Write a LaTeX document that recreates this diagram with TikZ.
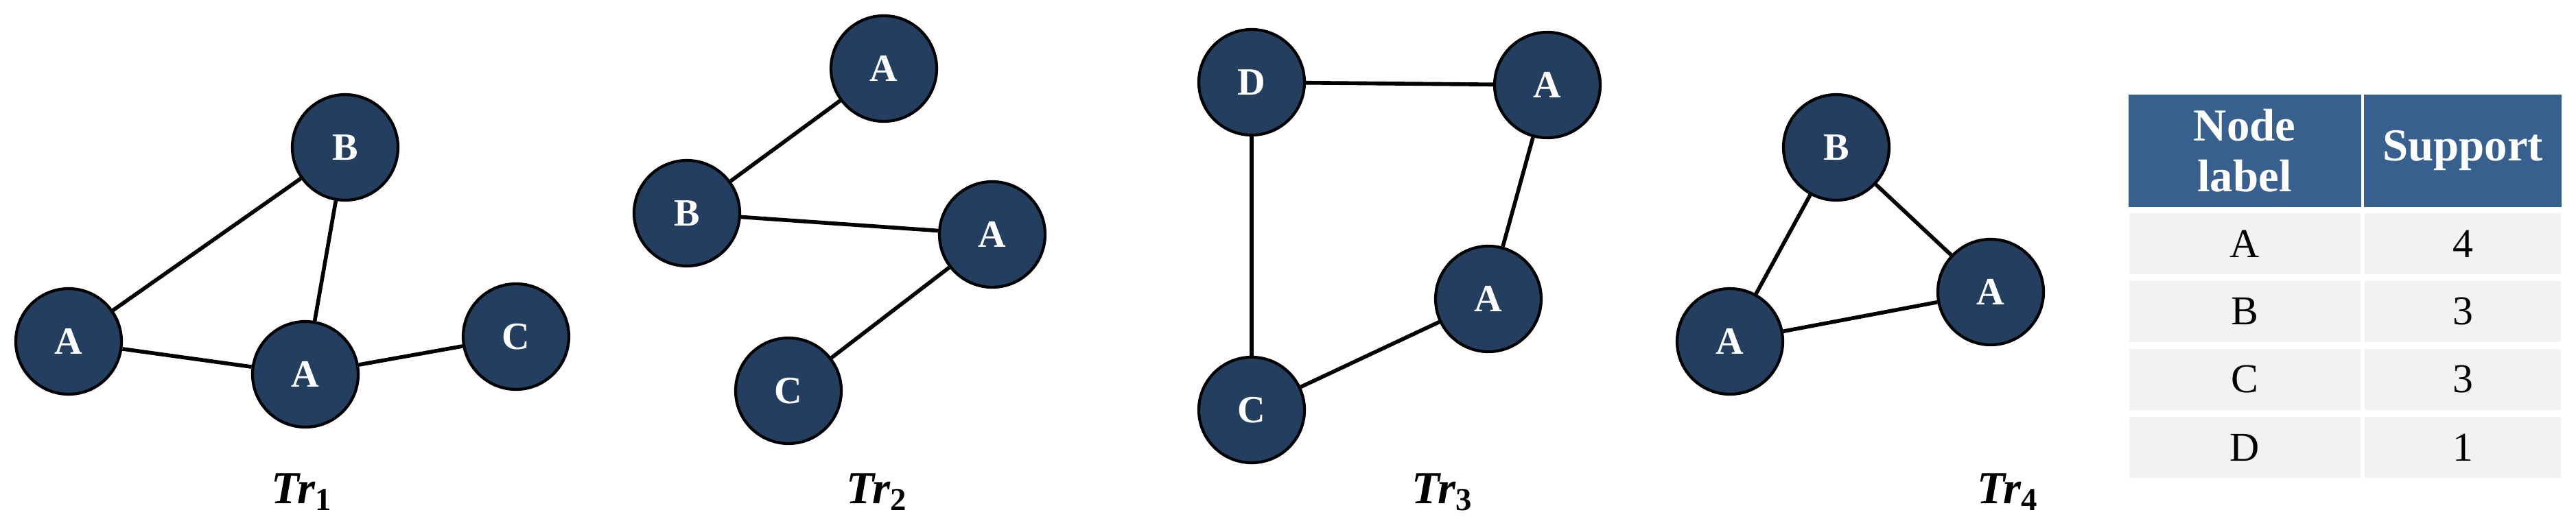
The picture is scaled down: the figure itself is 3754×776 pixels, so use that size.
\documentclass[tikz,border=0pt]{standalone}
\usepackage{fontspec}
\setmainfont{Liberation Serif}
\begin{document}
\begin{tikzpicture}[x=0.1mm,y=-0.1mm,
 v/.style={circle,draw=black,line width=1.2pt,fill=nodec,minimum size=15.4mm,inner sep=0pt,text=white,font=\fontsize{16}{16}\selectfont\bfseries},
 e/.style={line width=1.6pt},
 tl/.style={font=\fontsize{19}{19}\selectfont\bfseries\itshape},
 hd/.style={fill=hdc,draw=white,line width=1pt},
 rw/.style={fill=rowc,draw=white,line width=1.5pt},
 tt/.style={font=\fontsize{17}{19}\selectfont}]
\definecolor{nodec}{HTML}{243E60}
\definecolor{hdc}{HTML}{37608F}
\definecolor{rowc}{HTML}{F2F2F2}
\useasboundingbox (0,0) rectangle (3754,776);
% Tr1
\node[v] (b1) at (503,215) {B};
\node[v] (a11) at (100,498) {A};
\node[v] (a12) at (445,546) {A};
\node[v] (c1) at (752,491) {C};
\draw[e] (a11)--(b1) (b1)--(a12) (a11)--(a12) (a12)--(c1);
% Tr2
\node[v] (a21) at (1288,100) {A};
\node[v] (b2) at (1001,311) {B};
\node[v] (a22) at (1446,342) {A};
\node[v] (c2) at (1149,570) {C};
\draw[e] (b2)--(a21) (b2)--(a22) (a22)--(c2);
% Tr3
\node[v] (d3) at (1824,120) {D};
\node[v] (a31) at (2255,124) {A};
\node[v] (a32) at (2169,436) {A};
\node[v] (c3) at (1824,598) {C};
\draw[e] (d3)--(a31) (a31)--(a32) (a32)--(c3) (c3)--(d3);
% Tr4
\node[v] (b4) at (2676,215) {B};
\node[v] (a41) at (2521,498) {A};
\node[v] (a42) at (2901,426) {A};
\draw[e] (b4)--(a41) (b4)--(a42) (a41)--(a42);
% labels
\node[tl] (l1) at (440,718) {Tr\textsubscript{\upshape 1}};
\node[tl] (l2) at (1278,718) {Tr\textsubscript{\upshape 2}};
\node[tl] (l3) at (2102,718) {Tr\textsubscript{\upshape 3}};
\node[tl] (l4) at (2926,718) {Tr\textsubscript{\upshape 4}};
% table
\fill[hd] (3100,136) rectangle (3443,304);
\fill[hd] (3443,136) rectangle (3735,304);
\node[text=white,font=\fontsize{19}{21}\selectfont\bfseries,align=center] (h1) at (3271,220) {Node\\label};
\node[text=white,font=\fontsize{19}{21}\selectfont\bfseries] (h2) at (3589,220) {Support};
\foreach \l/\s [count=\i] in {A/4,B/3,C/3,D/1}{
 \pgfmathsetmacro\yt{304+(\i-1)*99+4}
 \pgfmathsetmacro\yb{304+\i*99}
 \pgfmathsetmacro\ym{(\yt+\yb)/2}
 \fill[rw] (3100,\yt) rectangle (3443,\yb);
 \fill[rw] (3443,\yt) rectangle (3735,\yb);
 \node[tt] (n\i) at (3271,\ym) {\l};
 \node[tt] (s\i) at (3589,\ym) {\s};
}
\end{tikzpicture}
\end{document}
